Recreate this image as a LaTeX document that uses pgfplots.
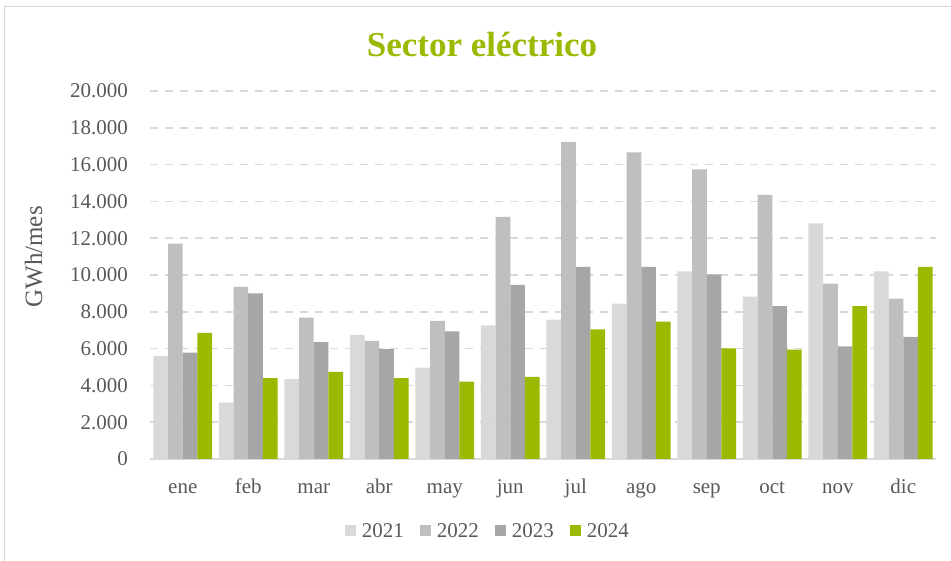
\documentclass[border=0pt]{standalone}
\usepackage{fontspec}
\setmainfont{Liberation Serif}
\usepackage{pgfplots}
\pgfplotsset{compat=1.18}
\usepackage{pgfplotstable}
\definecolor{c21}{HTML}{D9D9D9}
\definecolor{c22}{HTML}{BFBFBF}
\definecolor{c23}{HTML}{A6A6A6}
\definecolor{c24}{RGB}{156,184,0}
\definecolor{txt}{HTML}{595959}
\definecolor{gridc}{HTML}{D9D9D9}

% month index, GWh/mes per year
\pgfplotstableread{
m  y21    y22    y23    y24
0  5600   11700  5780   6860
1  3070   9350   9000   4390
2  4340   7680   6350   4740
3  6750   6410   5970   4390
4  4970   7510   6930   4210
5  7260   13160  9460   4460
6  7570   17240  10440  7040
7  8440   16660  10440  7460
8  10200  15740  10040  6010
9  8820   14360  8310   5950
10 12800  9530   6120   8310
11 10200  8710   6640   10440
}\datatable

\begin{document}
\begin{tikzpicture}
\begin{axis}[
    scale only axis, clip=false,
    width=786pt, height=368pt,
    xmin=-0.5, xmax=11.5, ymin=0, ymax=20000,
    ybar=0pt, bar width=14.7pt,
    xtick={0,...,11},
    xticklabels={ene,feb,mar,abr,may,jun,jul,ago,sep,oct,nov,dic},
    ytick={0,2000,...,20000},
    scaled y ticks=false,
    major tick length=0pt,
    axis x line*=bottom, axis y line*=left,
    x axis line style={gridc, line width=2pt, -},
    y axis line style={draw=none},
    ymajorgrids,
    major grid style={gridc, line width=1.6pt, dash pattern=on 8pt off 7pt},
    /pgf/number format/.cd, assume math mode=true, 1000 sep={.},
    /pgfplots/.cd,
    tick label style={font=\fontsize{21}{24}\selectfont, text=txt},
    yticklabel style={anchor=east, inner sep=0pt, xshift=-22pt},
    xticklabel style={anchor=base, inner sep=0pt, yshift=-35pt},
    legend style={draw=none, fill=none, legend columns=-1,
        at={(0.43,-0.196)}, anchor=center,
        font=\fontsize{21}{24}\selectfont, text=txt,
        /tikz/every odd column/.append style={column sep=4pt},
        /tikz/every even column/.append style={column sep=14pt}},
    legend image code/.code={\fill[#1] (0pt,-5pt) rectangle (11pt,6pt);},
]
\addplot[fill=c21, draw=none] table[x=m, y=y21] {\datatable};
\addplot[fill=c22, draw=none] table[x=m, y=y22] {\datatable};
\addplot[fill=c23, draw=none] table[x=m, y=y23] {\datatable};
\addplot[fill=c24, draw=none] table[x=m, y=y24] {\datatable};
\legend{2021,2022,2023,2024}
\node[font=\fontsize{35}{40}\selectfont\bfseries, text=c24]
    at (axis description cs:0.4224,1.125) {Sector eléctrico};
\node[rotate=90, font=\fontsize{25}{29}\selectfont, text=txt]
    at (axis description cs:-0.148,0.549) {GWh/mes};
\end{axis}
\pgfresetboundingbox
\path[use as bounding box] (-150pt,-102pt) rectangle (801pt,459pt);
\draw[gridc, line width=1pt] (-145pt,-110pt) -- (-145pt,452pt) -- (810pt,452pt);
\end{tikzpicture}
\end{document}
